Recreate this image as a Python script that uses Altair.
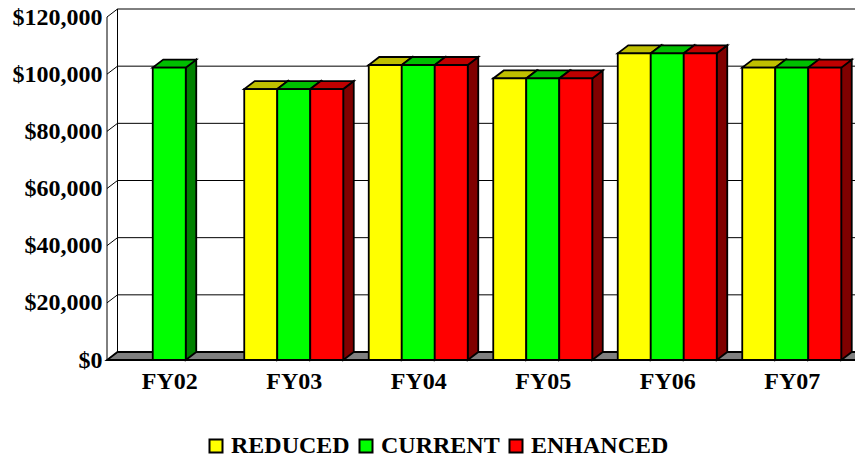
import altair as alt
import pandas as pd

# ---- data -------------------------------------------------------------
categories = ["FY02", "FY03", "FY04", "FY05", "FY06", "FY07"]
series = ["REDUCED", "CURRENT", "ENHANCED"]
reduced = [None, 94800, 103200, 98500, 107300, 102300]
current = [102300, 94800, 103200, 98500, 107300, 102300]
enhanced = [None, 94800, 103200, 98500, 107300, 102300]
y_ticks = [0, 20000, 40000, 60000, 80000, 100000, 120000]

# ---- style ------------------------------------------------------------
front_colors = ["#FFFF00", "#00FF00", "#FF0000"]
top_colors = ["#BFBF00", "#00BF00", "#BF0000"]
side_colors = ["#808000", "#008000", "#800000"]
FONT = "Liberation Serif"

# ---- geometry (pixels) -------------------------------------------------
PLOT_W = 747
PLOT_H = 351
BAND_PX = PLOT_W / len(categories)
BAR_PX = 33
DEPTH_X_PX = 10.5
DEPTH_Y_PX = 8
Y_TOP = y_ticks[-1]
Y_MAX = Y_TOP * PLOT_H / (PLOT_H - DEPTH_Y_PX)

depth_y = Y_MAX - Y_TOP            # depth expressed in value units
depth_x = DEPTH_X_PX / BAND_PX     # depth expressed in band units
bar_w = BAR_PX / BAND_PX
pad = (1 - len(series) * bar_w) / 2
n_cat = len(categories)

# ---- derived tables for the 3-D faces ---------------------------------
values = {"REDUCED": reduced, "CURRENT": current, "ENHANCED": enhanced}
fronts, tops, sides = [], [], []
for i, cat in enumerate(categories):
    for j, s in enumerate(series):
        v = values[s][i]
        if v is None:
            continue
        bar = f"{cat}-{s}"
        x0 = i + pad + j * bar_w
        x1 = x0 + bar_w
        fronts.append(dict(bar=bar, series=s, category=cat, value=v, x=x0, x2=x1, y=0, y2=v))
        for px, lo, hi in [(x0, v, v), (x0 + depth_x, v, v + depth_y),
                           (x1, v, v + depth_y), (x1 + depth_x, v + depth_y, v + depth_y)]:
            tops.append(dict(bar=bar, series=s, x=px, lo=lo, hi=hi))
        for px, lo, hi in [(x1, 0, v), (x1 + depth_x, depth_y, v + depth_y)]:
            sides.append(dict(bar=bar, series=s, x=px, lo=lo, hi=hi))

fronts = pd.DataFrame(fronts)
tops = pd.DataFrame(tops)
sides = pd.DataFrame(sides)

x_end = n_cat + 0.3
floor = pd.DataFrame({"x": [0, depth_x, x_end], "lo": [0, 0, 0], "hi": [0, depth_y, depth_y]})
grid = pd.DataFrame({"g": y_ticks})
grid["gb"] = grid["g"] + depth_y
grid["xa"] = 0.0
grid["xb"] = depth_x
grid["xe"] = x_end
walls = pd.DataFrame({"x": [0.0, depth_x], "lo": [0, depth_y], "hi": [Y_TOP, Y_TOP + depth_y]})

# ---- shared scales / axes ---------------------------------------------
x_scale = alt.Scale(domain=[0, n_cat], nice=False, zero=False)
y_scale = alt.Scale(domain=[0, Y_MAX], nice=False)
label_expr = "[" + ",".join(f"'{c}'" for c in categories) + "][floor(datum.value)]"
x_axis = alt.Axis(values=[i + 0.5 for i in range(n_cat)], labelExpr=label_expr,
                  title=None, grid=False, ticks=False, domain=False,
                  labelFont=FONT, labelFontSize=24, labelFontWeight="bold",
                  labelColor="black", labelPadding=9, labelAngle=0)
y_axis = alt.Axis(values=y_ticks, format="$,.0f", title=None, grid=False,
                  ticks=False, domain=False, labelFont=FONT, labelFontSize=24,
                  labelFontWeight="bold", labelColor="black", labelPadding=5)


def X(field):
    return alt.X(field, type="quantitative", scale=x_scale, axis=x_axis)


def Y(field):
    return alt.Y(field, type="quantitative", scale=y_scale, axis=y_axis, stack=False)


EDGE = dict(stroke="black", strokeWidth=1.8)

floor_layer = alt.Chart(floor).mark_area(color="#808080", orient="vertical", **EDGE).encode(
    x=X("x"), y=Y("lo"), y2="hi")

back_grid = alt.Chart(grid).mark_rule(color="black", strokeWidth=1).encode(
    x=X("xb"), x2="xe", y=Y("gb"))

side_grid = alt.Chart(grid).mark_rule(color="black", strokeWidth=1).encode(
    x=X("xa"), x2="xb", y=Y("g"), y2="gb")

wall_lines = alt.Chart(walls).mark_rule(color="black", strokeWidth=1).encode(
    x=X("x"), y=Y("lo"), y2="hi")

side_layer = alt.Chart(sides).mark_area(orient="vertical", **EDGE).encode(
    x=X("x"), y=Y("lo"), y2="hi", detail="bar:N",
    color=alt.Color("series:N", scale=alt.Scale(domain=series, range=side_colors), legend=None))

top_layer = alt.Chart(tops).mark_area(orient="vertical", **EDGE).encode(
    x=X("x"), y=Y("lo"), y2="hi", detail="bar:N",
    color=alt.Color("series:N", scale=alt.Scale(domain=series, range=top_colors), legend=None))

front_layer = alt.Chart(fronts).mark_rect(**EDGE).encode(
    x=X("x"), x2="x2", y=Y("y"), y2="y2",
    color=alt.Color("series:N", scale=alt.Scale(domain=series, range=front_colors),
                    legend=alt.Legend(title=None, orient="none", legendX=97, legendY=425,
                                      direction="horizontal", columns=3,
                                      symbolType="square", symbolSize=169,
                                      symbolStrokeColor="black", symbolStrokeWidth=2,
                                      symbolOpacity=1, labelFont=FONT, labelFontSize=24,
                                      labelFontWeight="bold", labelColor="black",
                                      labelLimit=0, columnPadding=4, labelOffset=3)),
    tooltip=["category:N", "series:N", alt.Tooltip("value:Q", format="$,.0f")])

chart = alt.layer(
    floor_layer, back_grid, side_grid, wall_lines, side_layer, top_layer, front_layer
).resolve_scale(color="independent").properties(
    width=PLOT_W, height=PLOT_H,
    autosize=alt.AutoSizeParams(type="none"),
    padding={"left": 107, "top": 9, "right": 1, "bottom": 100},
    background="white",
).configure_view(strokeWidth=0)

chart.save("out.html", embed_options={"renderer": "svg", "actions": False})
